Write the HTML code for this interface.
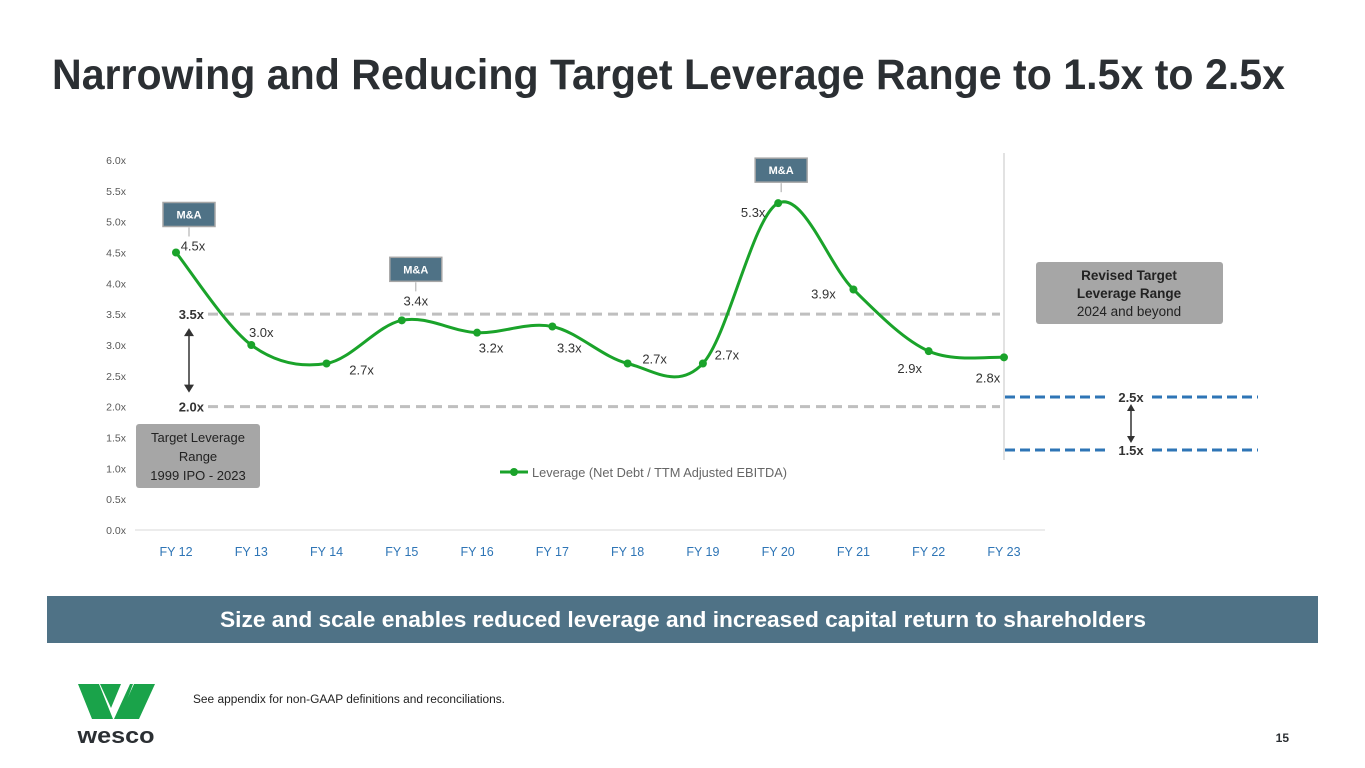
<!DOCTYPE html>
<html><head><meta charset="utf-8"><style>
html,body{margin:0;padding:0;background:#fff;}
svg{display:block;font-family:"Liberation Sans",sans-serif;}
</style></head><body>
<svg id="chart" width="1365" height="768" viewBox="0 0 1365 768">
<text x="52" y="89" font-size="43" font-weight="bold" fill="#2b2f33" textLength="1233" lengthAdjust="spacingAndGlyphs">Narrowing and Reducing Target Leverage Range to 1.5x to 2.5x</text>
<g id="axes"></g>
<g id="plot"></g>
<rect x="47" y="596" width="1271" height="47" fill="#4f7286"/>
<text x="683" y="627" text-anchor="middle" font-size="22" font-weight="bold" fill="#fff" textLength="926" lengthAdjust="spacingAndGlyphs">Size and scale enables reduced leverage and increased capital return to shareholders</text>
<text x="193" y="703" font-size="11.5" fill="#222" textLength="312" lengthAdjust="spacingAndGlyphs">See appendix for non-GAAP definitions and reconciliations.</text>
<text x="1289" y="742" text-anchor="end" font-size="12" font-weight="bold" fill="#2b2f33">15</text>
<g>
<polygon points="78,684 99,684 113,719 92,719" fill="#1aa34a"/>
<polygon points="100,684 121,684 111,708" fill="#1aa34a"/>
<polygon points="114,719 130,684 133,684 120,719" fill="#1aa34a"/>
<polygon points="118,719 134,684 155,684 139,719" fill="#1aa34a"/>
<text x="116" y="743" text-anchor="middle" font-size="22" font-weight="bold" fill="#2b2f33" textLength="77" lengthAdjust="spacingAndGlyphs">wesco</text>
</g>
</svg>
<script>
const categories=["FY 12","FY 13","FY 14","FY 15","FY 16","FY 17","FY 18","FY 19","FY 20","FY 21","FY 22","FY 23"];
const leverage=[4.5,3.0,2.7,3.4,3.2,3.3,2.7,2.7,5.3,3.9,2.9,2.8];
const valueLabels=["4.5x","3.0x","2.7x","3.4x","3.2x","3.3x","2.7x","2.7x","5.3x","3.9x","2.9x","2.8x"];
const yTicks=[0,0.5,1,1.5,2,2.5,3,3.5,4,4.5,5,5.5,6];
const oldRange=[2.0,3.5];
const newRange=[1.5,2.5];
const maIndices=[0,3,8];

const NS="http://www.w3.org/2000/svg";
const x=i=>176+i*75.27;
const y=v=>530-v*61.67;
function mk(tag,attrs,parent,txt){const e=document.createElementNS(NS,tag);for(const k in attrs)e.setAttribute(k,attrs[k]);if(txt!==undefined)e.textContent=txt;parent.appendChild(e);return e;}
const axes=document.getElementById('axes'),plot=document.getElementById('plot');

yTicks.forEach(t=>{
 const e=mk('text',{x:126,y:y(t)+4,'text-anchor':'end','font-size':10.5,fill:'#595959'},axes,t.toFixed(1)+'x');
 
 
});
const base=mk('line',{x1:135,x2:1045,y1:y(0),y2:y(0),stroke:'#d9d9d9','stroke-width':1},axes);


categories.forEach((c,i)=>{
 const e=mk('text',{x:x(i),y:556,'text-anchor':'middle','font-size':12.5,fill:'#2e75b6'},axes,c);
 
 
});
const vl=mk('line',{x1:1004,x2:1004,y1:153,y2:460,stroke:'#d9d9d9','stroke-width':1.5},axes);



// old range dashed lines
oldRange.forEach(v=>{
 const l=mk('line',{x1:208,x2:1000,y1:y(v),y2:y(v),stroke:'#bfbfbf','stroke-width':3,'stroke-dasharray':'10 6'},plot);
 
 
 const t=mk('text',{x:204,y:y(v)+5,'text-anchor':'end','font-size':13,'font-weight':'bold',fill:'#333'},plot,v.toFixed(1)+'x');
 
 
});
mk('line',{x1:189,x2:189,y1:y(oldRange[1])+17,y2:y(oldRange[0])-17,stroke:'#333','stroke-width':1.5},plot);
mk('path',{d:`M184,${y(oldRange[1])+22} L189,${y(oldRange[1])+14} L194,${y(oldRange[1])+22}Z M184,${y(oldRange[0])-22} L189,${y(oldRange[0])-14} L194,${y(oldRange[0])-22}Z`,fill:'#333'},plot);

// new range (drawn in the right panel with its own offset scale)
const ny=v=>450-(v-1.5)*53;
newRange.forEach(v=>{
 const yy=ny(v);
 [[1005,1110],[1152,1258]].forEach(s=>{
  const l=mk('line',{x1:s[0],x2:s[1],y1:yy,y2:yy,stroke:'#2e75b6','stroke-width':3,'stroke-dasharray':'10 5'},plot);
  
  
 });
 const t=mk('text',{x:1131,y:yy+5,'text-anchor':'middle','font-size':13,'font-weight':'bold',fill:'#333'},plot,v.toFixed(1)+'x');
 
 
});
mk('line',{x1:1131,x2:1131,y1:ny(2.5)+9,y2:ny(1.5)-9,stroke:'#333','stroke-width':1.5},plot);
mk('path',{d:`M1127,${ny(2.5)+14} L1131,${ny(2.5)+7} L1135,${ny(2.5)+14}Z M1127,${ny(1.5)-14} L1131,${ny(1.5)-7} L1135,${ny(1.5)-14}Z`,fill:'#333'},plot);

// boxes
const b1=mk('g',{},plot);


mk('rect',{x:136,y:424,width:124,height:64,rx:3,fill:'#a6a6a6'},b1);
[['Target Leverage',442],['Range',461],['1999 IPO - 2023',480]].forEach(a=>mk('text',{x:198,y:a[1],'text-anchor':'middle','font-size':13,fill:'#222'},b1,a[0]));
const b2=mk('g',{},plot);


mk('rect',{x:1036,y:262,width:187,height:62,rx:3,fill:'#a6a6a6'},b2);
[['Revised Target',280,'bold'],['Leverage Range',298,'bold'],['2024 and beyond',316,'normal']].forEach(a=>mk('text',{x:1129,y:a[1],'text-anchor':'middle','font-size':13.5,'font-weight':a[2],fill:'#222'},b2,a[0]));

// curve (Catmull-Rom)
const P=leverage.map((v,i)=>[x(i),y(v)]);
let d=`M${P[0][0]},${P[0][1]}`;
for(let i=0;i<P.length-1;i++){
 const p0=P[Math.max(i-1,0)],p1=P[i],p2=P[i+1],p3=P[Math.min(i+2,P.length-1)];
 const c1=[p1[0]+(p2[0]-p0[0])/6,p1[1]+(p2[1]-p0[1])/6];
 const c2=[p2[0]-(p3[0]-p1[0])/6,p2[1]-(p3[1]-p1[1])/6];
 d+=` C${c1[0]},${c1[1]} ${c2[0]},${c2[1]} ${p2[0]},${p2[1]}`;
}
const line=mk('path',{d:d,fill:'none',stroke:'#1aa32a','stroke-width':3},plot);


const dx=[17,10,35,14,14,17,27,24,-25,-30,-19,-16];
const dy=[-2,-8,11,-15,20,26,0,-4,14,9,22,25];
leverage.forEach((v,i)=>{
 const c=mk('circle',{cx:x(i),cy:y(v),r:4,fill:'#1aa32a'},plot);
 
 
 const t=mk('text',{x:x(i)+dx[i],y:y(v)+dy[i],'text-anchor':'middle','font-size':13,fill:'#333'},plot,valueLabels[i]);
 
 
});
// M&A tags
const tagDx=[13,14,3];
const tagDy=[-50,-63,-45];
maIndices.forEach((i,k)=>{
 const top=y(leverage[i])+tagDy[k];
 const cx=x(i)+tagDx[k];
 const g=mk('g',{},plot);
 
 
 mk('rect',{x:cx-26,y:top,width:52,height:24,fill:'#4f7286',stroke:'#a6a6a6','stroke-width':1.5},g);
 mk('text',{x:cx,y:top+16,'text-anchor':'middle','font-size':11,'font-weight':'bold',fill:'#fff'},g,'M&A');
 mk('line',{x1:cx,x2:cx,y1:top+25,y2:top+34,stroke:'#a6a6a6','stroke-width':1},g);
});
// legend
const lg=mk('g',{},plot);


mk('line',{x1:500,x2:528,y1:472,y2:472,stroke:'#1aa32a','stroke-width':3},lg);
mk('circle',{cx:514,cy:472,r:4,fill:'#1aa32a'},lg);
mk('text',{x:532,y:477,'font-size':13,fill:'#666',textLength:255,lengthAdjust:'spacingAndGlyphs'},lg,'Leverage (Net Debt / TTM Adjusted EBITDA)');
</script>
</body></html>
